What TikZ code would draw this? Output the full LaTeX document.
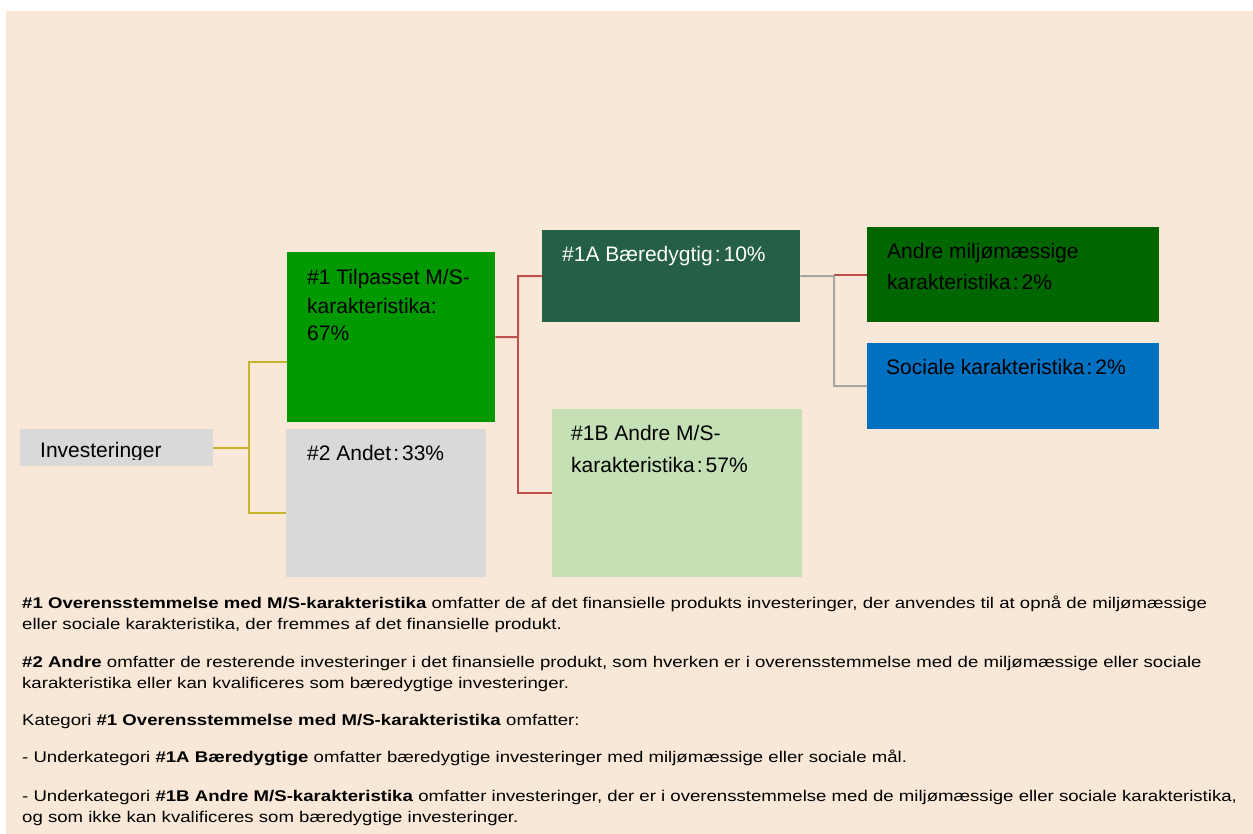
\documentclass[tikz,border=0pt]{standalone}
\usepackage{fontspec}
\setmainfont{Liberation Sans}
\newfontfamily\bodyfont[FakeStretch=1.2]{Liberation Sans}
\newcommand{\csep}{\hspace{2pt}:\hspace{3pt}}
\begin{document}
\begin{tikzpicture}[x=1pt,y=-1pt,
  box/.style={draw=none,inner sep=0pt,anchor=north west},
  boxtxt/.style={inner sep=0pt,anchor=base west,font=\fontsize{21}{28}\selectfont,align=left},
  bodytxt/.style={inner sep=0pt,anchor=base west,font=\bodyfont\fontsize{15.5}{20}\selectfont},
  yel/.style={draw=lineyel,line width=2pt},
  redl/.style={draw=linered,line width=2pt},
  gryl/.style={draw=linegry,line width=2pt}]
\definecolor{bg}{HTML}{F9E8D8}
\definecolor{grybox}{HTML}{D9D9D9}
\definecolor{grn1}{HTML}{009900}
\definecolor{grn1a}{HTML}{245F46}
\definecolor{grn1b}{HTML}{C5E0B4}
\definecolor{grnmil}{HTML}{006600}
\definecolor{blusoc}{HTML}{0070C0}
\definecolor{lineyel}{HTML}{C8B428}
\definecolor{linered}{HTML}{C0504D}
\definecolor{linegry}{HTML}{A6A6A6}
\useasboundingbox (0,0) rectangle (1253,834);
\fill[white] (0,0) rectangle (1253,834);
\fill[bg] (6,11) rectangle (1253,834);
% boxes
\node[box,fill=grybox,minimum width=193pt,minimum height=37pt] (inv) at (20,429) {};
\node[box,fill=grn1,minimum width=208pt,minimum height=170pt] (n1) at (287,252) {};
\node[box,fill=grybox,minimum width=200pt,minimum height=148pt] (n2) at (286,429) {};
\node[box,fill=grn1a,minimum width=258pt,minimum height=92pt] (n1a) at (542,230) {};
\node[box,fill=grn1b,minimum width=250pt,minimum height=168pt] (n1b) at (552,409) {};
\node[box,fill=grnmil,minimum width=292pt,minimum height=95pt] (amk) at (867,227) {};
\node[box,fill=blusoc,minimum width=292pt,minimum height=86pt] (soc) at (867,343) {};
% box texts
\begin{scope}
\clip (20,429) rectangle (213,459);
\node[boxtxt] (tinv) at (40,457) {Investeringer};
\end{scope}
\node[boxtxt] (tn1a) at (307,285) {\#1 Tilpasset M/S-};
\node[boxtxt] (tn1b) at (307,314) {karakteristika:};
\node[boxtxt] (tn1c) at (307,341) {67\%};
\node[boxtxt] (tn2) at (307,460) {\#2 Andet\csep33\%};
\node[boxtxt,text=white] (tn1A) at (562,262) {\#1A Bæredygtig\csep10\%};
\node[boxtxt] (tn1Ba) at (571,440) {\#1B Andre M/S-};
\node[boxtxt] (tn1Bb) at (571,472) {karakteristika\csep57\%};
\node[boxtxt] (tamka) at (887,259) {Andre miljømæssige};
\node[boxtxt] (tamkb) at (887,290) {karakteristika\csep2\%};
\node[boxtxt] (tsoc) at (886,374) {Sociale karakteristika\csep2\%};
% connectors
\coordinate (ya) at (249,362);
\coordinate (yb) at (249,513);
\draw[yel] (inv.east) -| (ya) -- (ya -| n1.west);
\draw[yel] (inv.east -| ya) |- (yb -| n2.west);
\coordinate (rj) at (518,337);
\draw[redl] (n1.east) -- (rj) |- (n1a.west);
\draw[redl] (rj) |- (n1b.west);
\coordinate (gj) at (834,276);
\draw[gryl] (n1a.east) -- (gj) |- (soc.west);
\draw[redl] (amk.west) -- (amk.west -| gj);
% body text
\node[bodytxt] (p1a) at (22,608) {\textbf{\#1 Overensstemmelse med M/S-karakteristika} omfatter de af det finansielle produkts investeringer, der anvendes til at opnå de miljømæssige};
\node[bodytxt] (p1b) at (22,629) {eller sociale karakteristika, der fremmes af det finansielle produkt.};
\node[bodytxt] (p2a) at (22,667) {\textbf{\#2 Andre} omfatter de resterende investeringer i det finansielle produkt, som hverken er i overensstemmelse med de miljømæssige eller sociale};
\node[bodytxt] (p2b) at (22,688) {karakteristika eller kan kvalificeres som bæredygtige investeringer.};
\node[bodytxt] (p3) at (22,725) {Kategori \textbf{\#1 Overensstemmelse med M/S-karakteristika} omfatter:};
\node[bodytxt] (p4) at (22,762) {- Underkategori \textbf{\#1A Bæredygtige} omfatter bæredygtige investeringer med miljømæssige eller sociale mål.};
\node[bodytxt] (p5a) at (22,801) {- Underkategori \textbf{\#1B Andre M/S-karakteristika} omfatter investeringer, der er i overensstemmelse med de miljømæssige eller sociale karakteristika,};
\node[bodytxt] (p5b) at (22,822) {og som ikke kan kvalificeres som bæredygtige investeringer.};
\end{tikzpicture}
\end{document}
